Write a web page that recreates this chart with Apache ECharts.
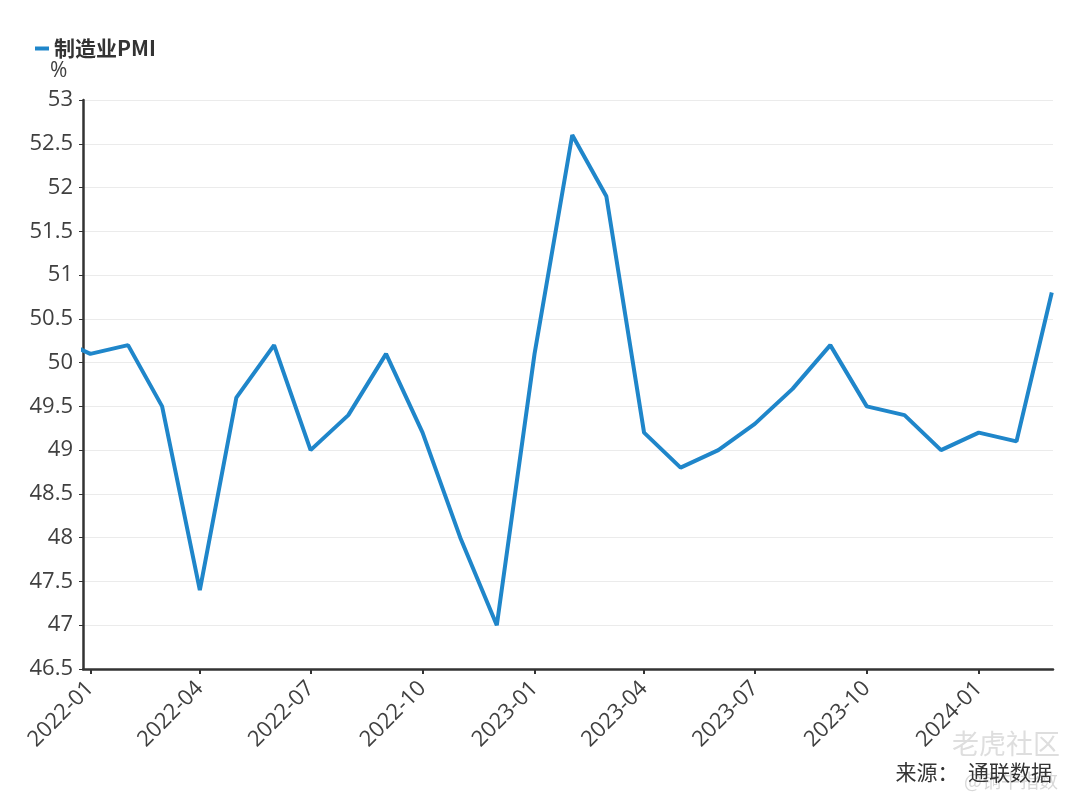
<!DOCTYPE html>
<html><head><meta charset="utf-8">
<script src="https://cdn.jsdelivr.net/npm/echarts@6/dist/echarts.min.js"></script>
<style>html,body{margin:0;padding:0;background:#fff}#c{width:1080px;height:810px}</style>
</head><body><div id="c"></div>
<script>
const months = ['2021-12','2022-01','2022-02','2022-03','2022-04','2022-05','2022-06','2022-07','2022-08','2022-09','2022-10','2022-11','2022-12','2023-01','2023-02','2023-03','2023-04','2023-05','2023-06','2023-07','2023-08','2023-09','2023-10','2023-11','2023-12','2024-01','2024-02','2024-03'];
const pmi = [50.3,50.1,50.2,49.5,47.4,49.6,50.2,49.0,49.4,50.1,49.2,48.0,47.0,50.1,52.6,51.9,49.2,48.8,49.0,49.3,49.7,50.2,49.5,49.4,49.0,49.2,49.1,50.8];
const tickLabels = ['2022-01','2022-04','2022-07','2022-10','2023-01','2023-04','2023-07','2023-10','2024-01'];
const seriesName = '制造业PMI';

function ts(s){const p=s.split('-');return Date.UTC(+p[0],+p[1]-1,p[2]?+p[2]:1);}
function fmt(v){const d=new Date(v);return d.getUTCFullYear()+'-'+String(d.getUTCMonth()+1).padStart(2,'0');}
const data = months.map((m,i)=>[ts(m),pmi[i]]);
const tickVals = tickLabels.map(ts);
const font = "'Open Sans','Noto Sans CJK SC',sans-serif";
const cjk = "'Noto Sans CJK SC',sans-serif";

const chart = echarts.init(document.getElementById('c'));
chart.setOption({
  animation:false,
  textStyle:{fontFamily:font},
  legend:{left:30,top:33,itemWidth:14,itemHeight:4,icon:'rect',itemGap:9,
    textStyle:{fontSize:21,fontWeight:'bold',color:'#333',fontFamily:cjk},data:[seriesName]},
  grid:{left:83,right:27,top:100,bottom:141,containLabel:false},
  xAxis:{type:'value',min:ts('2021-12-26'),max:ts('2024-03-02'),
    axisLine:{lineStyle:{color:'#333',width:2.5}},
    axisTick:{show:true,customValues:tickVals,length:5,lineStyle:{color:'#333',width:2}},
    axisLabel:{customValues:tickVals,rotate:45,formatter:fmt,fontSize:22,color:'#404040',margin:16,fontFamily:font},
    splitLine:{show:false}},
  yAxis:{type:'value',min:46.5,max:53,interval:0.5,
    axisLine:{show:true,lineStyle:{color:'#333',width:2.5}},
    axisTick:{show:true,length:4,lineStyle:{color:'#333'}},
    axisLabel:{fontSize:22,color:'#404040',margin:10,fontFamily:font},
    splitLine:{lineStyle:{color:'#ebebeb',width:1}}},
  graphic:[
    {type:'text',left:50,top:61,style:{text:'%',fontSize:21,fill:'#404040',fontFamily:font}},
    {type:'text',right:20,top:730,style:{text:'老虎社区',fontSize:27,fill:'#dedede',fontFamily:cjk}},
    {type:'text',right:22,top:771,style:{text:'@铜牛指数',fontSize:19,fill:'#d8d8d8',fontFamily:cjk}},
    {type:'text',right:28,top:762,style:{text:'来源：  通联数据',fontSize:21,fill:'#333',fontFamily:cjk}}
  ],
  series:[{name:seriesName,type:'line',data:data,showSymbol:false,symbol:'none',clip:true,
    lineStyle:{color:'#1f86ca',width:4},itemStyle:{color:'#1f86ca'}}]
});
</script></body></html>
